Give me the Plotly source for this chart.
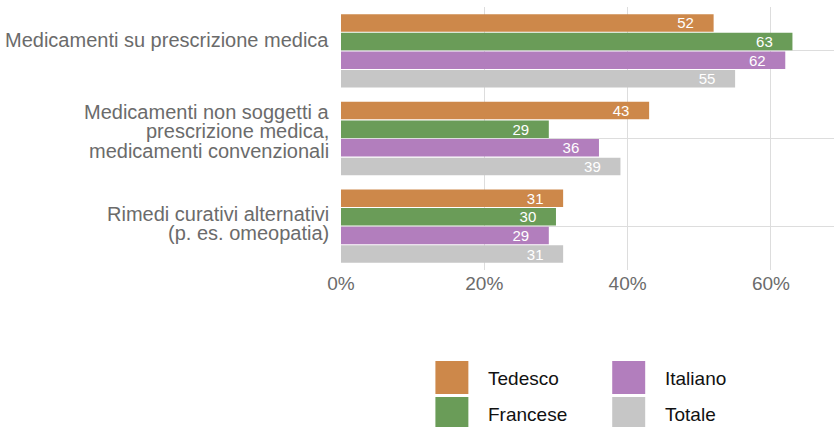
import plotly.graph_objects as go

categories = [
    "Medicamenti su prescrizione medica",
    "Medicamenti non soggetti a<br>prescrizione medica,<br>medicamenti convenzionali",
    "Rimedi curativi alternativi<br>(p. es. omeopatia)",
]
series_names = ["Tedesco", "Francese", "Italiano", "Totale"]
tedesco = [52, 43, 31]
francese = [63, 29, 30]
italiano = [62, 36, 29]
totale = [55, 39, 31]
x_ticks = [0, 20, 40, 60]
x_tick_labels = ["0%", "20%", "40%", "60%"]

values = [tedesco, francese, italiano, totale]
colors = ["#CD884A", "#6A9C58", "#B27EBD", "#C6C6C6"]
FONT = "Liberation Sans, Arial, Helvetica, sans-serif"
PAD = "\u00a0" * 4

fig = go.Figure()
for name, vals, col in zip(series_names, values, colors):
    fig.add_trace(go.Bar(
        name=name,
        y=categories,
        x=vals,
        orientation="h",
        marker=dict(color=col, line=dict(width=0)),
        text=[f"{v}{PAD}" for v in vals],
        textposition="inside",
        insidetextanchor="end",
        constraintext="none",
        textfont=dict(color="white", size=15, family=FONT),
        showlegend=False,
        hoverinfo="x+name",
    ))

# Plot-area geometry in pixels (used to place the legend)
plot_left, plot_w = 340.5, 493.5
plot_bottom, plot_h = 270.0, 263.0


def px_x(p):
    return (p - plot_left) / plot_w


def px_y(p):
    return (plot_bottom - p) / plot_h


shapes = []
annotations = []

# Category labels, one annotation per line for tight line spacing
LINE_H = 19.5
label_lift = [10.5, 7.5, 2.5]
for cat, lift in zip(categories, label_lift):
    lines = cat.split("<br>")
    n = len(lines)
    for i, line in enumerate(lines):
        annotations.append(dict(
            xref="paper", yref="y", x=0, y=cat,
            xanchor="right", yanchor="middle", xshift=-10.5,
            yshift=lift - (i - (n - 1) / 2) * LINE_H,
            showarrow=False, text=line,
            font=dict(size=20, color="#6B6B6B", family=FONT),
        ))

# Legend: 2x2 grid of square swatches with labels
legend_cells = [(435, 361), (435, 397), (612, 361), (612, 397)]
for idx, (sx, sy) in enumerate(legend_cells):
    shapes.append(dict(
        type="rect", xref="paper", yref="paper",
        x0=px_x(sx), x1=px_x(sx + 33), y0=px_y(sy + 33), y1=px_y(sy),
        fillcolor=colors[idx], line=dict(width=0), layer="above",
    ))
    annotations.append(dict(
        xref="paper", yref="paper", x=px_x(sx + 51), y=px_y(sy + 17),
        xanchor="left", yanchor="middle", showarrow=False,
        text=series_names[idx], font=dict(size=19, color="#111111", family=FONT),
    ))

fig.update_layout(
    width=834, height=427,
    margin=dict(l=340.5, r=0, t=7, b=157),
    paper_bgcolor="white", plot_bgcolor="white",
    barmode="group", bargap=0.15, bargroupgap=0.06,
    font=dict(family=FONT),
    shapes=shapes, annotations=annotations,
    xaxis=dict(
        range=[0, 68.8], tickvals=x_ticks, ticktext=x_tick_labels,
        showgrid=True, gridcolor="#DDDDDD", gridwidth=1,
        zeroline=False, showline=False, ticks="",
        tickfont=dict(size=19, color="#6B6B6B", family=FONT),
    ),
    yaxis=dict(
        autorange="reversed", showgrid=True, gridcolor="#DDDDDD", gridwidth=1,
        ticks="", showline=False, showticklabels=False,
    ),
)

fig.write_html("out.html")
